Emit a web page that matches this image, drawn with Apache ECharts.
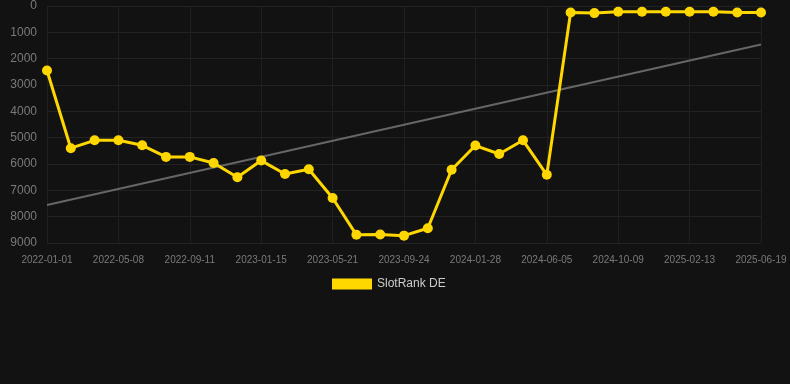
<!DOCTYPE html>
<html>
<head>
<meta charset="utf-8">
<script src="https://cdn.jsdelivr.net/npm/echarts@6/dist/echarts.min.js"></script>
<style>
  html, body { margin: 0; padding: 0; background: #121212; }
  #chart { width: 790px; height: 384px; }
</style>
</head>
<body>
<div id="chart"></div>
<script>
// rank over time, every ~6 weeks; lower rank number is better so the y axis runs top-down
const dates = [
  "2022-01-01", "2022-02-12", "2022-03-26", "2022-05-08", "2022-06-19", "2022-07-31",
  "2022-09-11", "2022-10-23", "2022-12-04", "2023-01-15", "2023-02-26", "2023-04-09",
  "2023-05-21", "2023-07-02", "2023-08-13", "2023-09-24", "2023-11-05", "2023-12-17",
  "2024-01-28", "2024-03-10", "2024-04-22", "2024-06-05", "2024-07-17", "2024-08-28",
  "2024-10-09", "2024-11-20", "2025-01-01", "2025-02-13", "2025-03-27", "2025-05-08",
  "2025-06-19",
];
const rankDE = [
  2450, 5400, 5100, 5100, 5290, 5730, 5730, 5960, 6500, 5870, 6380, 6200,
  7290, 8690, 8680, 8720, 8440, 6220, 5300, 5620, 5100, 6410, 250, 270,
  215, 215, 215, 215, 215, 250, 250,
];
// trend line, read at its two ends
const trendStart = 7560;
const trendEnd = 1460;
const yTicks = { min: 0, max: 9000, interval: 1000 };

const trend = dates.map((_, i) => (i === 0 ? trendStart : i === dates.length - 1 ? trendEnd : null));

const chart = echarts.init(document.getElementById("chart"));
chart.setOption({
  backgroundColor: "#121212",
  animation: false,
  textStyle: { fontFamily: "Liberation Sans, Arial, sans-serif" },
  grid: { left: 47, right: 29, top: 6, bottom: 141 },
  legend: {
    data: ["SlotRank DE"],
    top: 273,
    left: 327,
    icon: "rect",
    itemWidth: 40,
    itemHeight: 11,
    itemGap: 10,
    textStyle: { color: "#cccccc", fontSize: 12 },
  },
  xAxis: {
    type: "category",
    data: dates,
    boundaryGap: false,
    axisLine: { show: false },
    axisTick: { show: false },
    axisLabel: { interval: 2, color: "#7a7a7a", fontSize: 10, margin: 12 },
    splitLine: { show: true, interval: 2, lineStyle: { color: "#202020" } },
  },
  yAxis: {
    type: "value",
    inverse: true,
    min: yTicks.min,
    max: yTicks.max,
    interval: yTicks.interval,
    axisLine: { show: false },
    axisTick: { show: false },
    axisLabel: { color: "#7a7a7a", fontSize: 12, margin: 10, formatter: (v) => String(v) },
    splitLine: { lineStyle: { color: "#222222" } },
  },
  series: [
    {
      name: "Trend",
      type: "line",
      data: trend,
      connectNulls: true,
      symbol: "none",
      lineStyle: { color: "#666666", width: 2 },
      z: 1,
    },
    {
      name: "SlotRank DE",
      type: "line",
      data: rankDE,
      color: "#FFD700",
      symbol: "circle",
      symbolSize: 10,
      lineStyle: { color: "#FFD700", width: 3 },
      itemStyle: { color: "#FFD700" },
      z: 2,
    },
  ],
});
</script>
</body>
</html>
